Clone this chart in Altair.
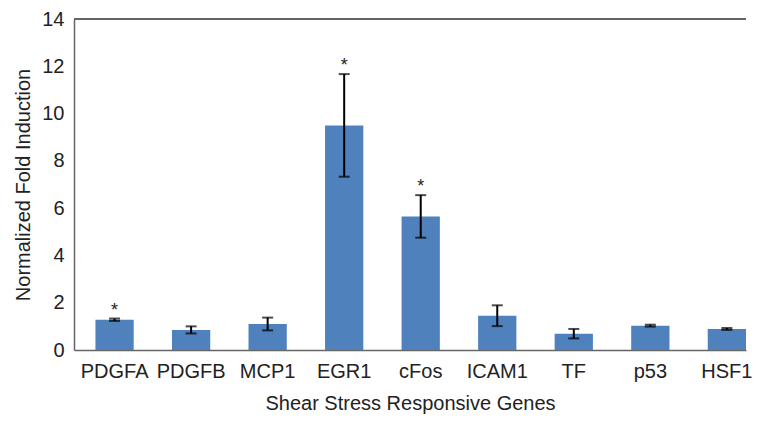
import altair as alt
import pandas as pd

genes = ["PDGFA", "PDGFB", "MCP1", "EGR1", "cFos", "ICAM1", "TF", "p53", "HSF1"]
fold = [1.28, 0.85, 1.10, 9.50, 5.65, 1.45, 0.69, 1.03, 0.89]
err = [0.05, 0.15, 0.27, 2.17, 0.90, 0.44, 0.20, 0.04, 0.04]
significant = [True, False, False, True, True, False, False, False, False]

df = pd.DataFrame({"gene": genes, "fold": fold, "err": err, "sig": significant})
df["lo"] = df["fold"] - df["err"]
df["hi"] = df["fold"] + df["err"]
df["star"] = ["*" if s else "" for s in df["sig"]]

FONT = "Liberation Sans"
AXIS_COLOR = "#666666"

x = alt.X("gene:N", sort=genes,
          scale=alt.Scale(paddingInner=0.5, paddingOuter=0.14, align=1),
          axis=alt.Axis(title="Shear Stress Responsive Genes", labelAngle=0,
                        ticks=False, labelPadding=11, titlePadding=12,
                        domainColor=AXIS_COLOR, domainWidth=1.5))
y_axis = alt.Axis(title="Normalized Fold Induction", values=list(range(0, 15, 2)),
                  ticks=False, grid=False, labelPadding=10, titlePadding=8,
                  domainColor=AXIS_COLOR, domainWidth=1.5)
yscale = alt.Scale(domain=[0, 14])

base = alt.Chart(df)
bars = base.mark_bar(color="#4F81BD").encode(
    x=x, y=alt.Y("fold:Q", scale=yscale, axis=y_axis))
rule = base.mark_rule(color="black", strokeWidth=2).encode(
    x=alt.X("gene:N", sort=genes), y="lo:Q", y2="hi:Q")
cap_hi = base.mark_tick(color="black", thickness=2, size=11).encode(
    x=alt.X("gene:N", sort=genes), y="hi:Q")
cap_lo = base.mark_tick(color="black", thickness=2, size=11).encode(
    x=alt.X("gene:N", sort=genes), y="lo:Q")
stars = base.mark_text(font=FONT, fontSize=18, dy=-8, baseline="middle", color="#222222").encode(
    x=alt.X("gene:N", sort=genes), y="hi:Q", text="star:N")
top = alt.Chart(df).mark_rule(color=AXIS_COLOR, strokeWidth=1.5).encode(y=alt.datum(14))

chart = alt.layer(bars, rule, cap_hi, cap_lo, stars, top).properties(
    width=672, height=331,
    padding={"left": 5, "top": 1, "right": 0, "bottom": 5},
).configure_view(stroke=None).configure_axis(
    labelFont=FONT, titleFont=FONT, labelFontSize=20, titleFontSize=20,
    labelColor="#222222", titleColor="#222222", titleFontWeight="normal",
)

chart.save("out.html", embed_options={"renderer": "svg", "actions": False})
